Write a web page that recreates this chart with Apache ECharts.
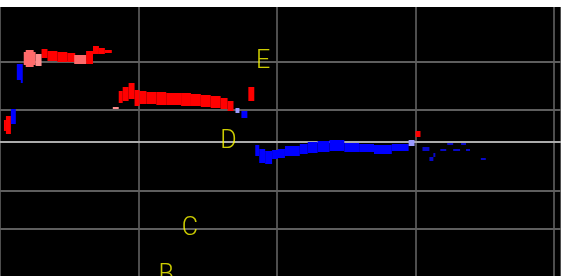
<!DOCTYPE html>
<html>
<head>
<meta charset="utf-8">
<script src="https://cdn.jsdelivr.net/npm/echarts@6/dist/echarts.min.js"></script>
<style>
  html, body { margin: 0; padding: 0; background: #fff; }
  #chart { width: 561px; height: 276px; }
</style>
</head>
<body>
<div id="chart"></div>
<script>
// x: analysis frame, y: pitch bin (0 = bottom of the view)
// each run is [frameStart, frameEnd, binTop, binBottom]
const redRuns = [
  [42, 48, 227, 218], [48, 58, 225, 215], [58, 68, 224, 214], [68, 76, 223, 214],
  [87, 94, 225, 212], [94, 100, 230, 222], [100, 106, 228, 222], [106, 113, 226, 223],
  [6, 11, 160, 142], [4, 6, 156, 145],
  [120, 124, 185, 173], [124, 130, 189, 175], [130, 136, 193, 177], [136, 141, 186, 170],
  [141, 148, 185, 172], [148, 158, 184, 172], [158, 168, 184, 171], [168, 183, 183, 171],
  [183, 193, 183, 170], [193, 203, 182, 170], [203, 213, 181, 169], [213, 223, 180, 168],
  [223, 230, 178, 167], [230, 236, 175, 165],
  [251, 257, 189, 175], [420, 425, 145, 139]
]
const pinkRuns = [
  [26, 34, 226, 209], [24, 36, 224, 211], [75, 87, 221, 212]
]
const paleRuns = [
  [36, 42, 222, 210], [114, 120, 169, 167]
]
const blueRuns = [
  [17, 23, 212, 196], [21, 23, 196, 193], [11, 16, 167, 152], [244, 250, 165, 158],
  [258, 262, 131, 120], [262, 268, 127, 113], [268, 275, 125, 112], [275, 281, 126, 117],
  [281, 288, 127, 118], [288, 303, 130, 120], [303, 311, 132, 122], [311, 321, 134, 123],
  [321, 333, 135, 124], [333, 348, 136, 125], [348, 363, 133, 124], [363, 378, 132, 124],
  [378, 396, 131, 122], [396, 413, 132, 125]
]
const lavenderRuns = [
  [238, 242, 168, 163], [413, 419, 136, 130]
]
const dimBlueRuns = [
  [427, 434, 129, 125], [434, 438, 119, 115], [438, 440, 123, 119], [445, 451, 127, 125],
  [452, 458, 133, 131], [458, 465, 127, 125], [466, 471, 133, 131], [471, 475, 127, 125],
  [486, 491, 118, 116]
]

// note names and where they sit
const noteNames = ['E', 'D', 'C', 'B']
const noteFrames = [266, 231, 192, 168]
const noteBins = [214, 134, 47, 0]

// horizontal guide lines (pitch bins)
const guideBins = [214, 166, 85, 47]
const refBin = 134

const chart = echarts.init(document.getElementById('chart'))

const renderRun = (params, api) => {
  const a = api.coord([api.value(0), api.value(2)])
  const b = api.coord([api.value(1), api.value(3)])
  return {
    type: 'rect',
    shape: { x: a[0], y: a[1], width: b[0] - a[0], height: b[1] - a[1] },
    style: { fill: api.visual('color') }
  }
}

const runSeries = (name, data, color) => ({
  name,
  type: 'custom',
  renderItem: renderRun,
  data,
  encode: { x: [0, 1], y: [2, 3] },
  itemStyle: { color },
  z: 5,
  silent: true
})

const option = {
  backgroundColor: '#ffffff',
  animation: false,
  grid: {
    show: true,
    backgroundColor: '#000000',
    borderWidth: 0,
    left: -3, right: -3, top: 7, bottom: 0
  },
  xAxis: {
    type: 'value',
    min: 0,
    max: 567,
    interval: 140,
    axisLine: { show: false },
    axisTick: { show: false },
    axisLabel: { show: false },
    splitLine: { show: true, lineStyle: { color: '#4e4e4e', width: 2 } }
  },
  yAxis: {
    type: 'value',
    min: 0,
    max: 269,
    axisLine: { show: false },
    axisTick: { show: false },
    axisLabel: { show: false },
    splitLine: { show: false }
  },
  series: [
    {
      name: 'guides',
      type: 'line',
      data: [],
      z: 2,
      markLine: {
        silent: true,
        symbol: ['none', 'none'],
        label: { show: false },
        lineStyle: { color: '#5e5e5e', width: 2, type: 'solid' },
        data: [
          ...guideBins.map(v => ({ yAxis: v })),
          { yAxis: refBin, lineStyle: { color: '#ababab', width: 2, type: 'solid' } }
        ]
      }
    },
    runSeries('red', redRuns, '#ff0000'),
    runSeries('pink', pinkRuns, '#ff6a6a'),
    runSeries('pale', paleRuns, '#ff8e8e'),
    runSeries('blue', blueRuns, '#0000ff'),
    runSeries('lavender', lavenderRuns, '#9c9cff'),
    runSeries('dimBlue', dimBlueRuns, '#0808c8'),
    {
      name: 'notes',
      type: 'scatter',
      symbolSize: 0,
      z: 6,
      silent: true,
      data: noteNames.map((n, i) => [noteFrames[i], noteBins[i], n]),
      label: {
        show: true,
        position: 'inside',
        formatter: p => p.value[2],
        color: '#ffff00',
        fontFamily: 'Roboto',
        fontWeight: 300,
        fontSize: 25
      }
    }
  ]
}

chart.setOption(option)
</script>
</body>
</html>
